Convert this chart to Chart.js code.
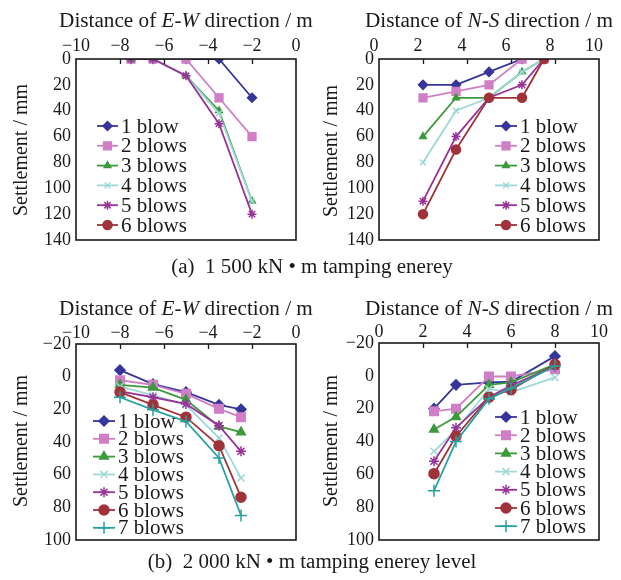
<!DOCTYPE html>
<html><head><meta charset="utf-8">
<script src="https://cdn.jsdelivr.net/npm/chart.js@4.4.1/dist/chart.umd.min.js"></script>
<style>
html,body{margin:0;padding:0;background:#fff;}
#wrap{position:relative;width:621px;height:580px;overflow:hidden;font-family:"Liberation Serif","Times New Roman",serif;color:#1a1a1a;}
canvas{position:absolute;left:0;top:0;}
.t{position:absolute;white-space:nowrap;text-align:center;font-size:20px;line-height:20px;width:400px;height:20px;transform:scaleX(1.06);}
.yt{position:absolute;white-space:nowrap;text-align:center;font-size:20px;line-height:20px;width:200px;height:20px;transform:rotate(-90deg);}
.cap{position:absolute;white-space:nowrap;text-align:center;font-size:20px;line-height:20px;width:500px;height:20px;transform:scaleX(1.05);}
</style>
</head><body>
<div id="wrap">
<canvas id="cTL" width="621" height="580"></canvas>
<canvas id="cTR" width="621" height="580"></canvas>
<canvas id="cBL" width="621" height="580"></canvas>
<canvas id="cBR" width="621" height="580"></canvas>
<div class="t" style="left:-14px;top:10px;">Distance of <i>E-W</i> direction / m</div>
<div class="t" style="left:289px;top:10px;">Distance of <i>N-S</i> direction / m</div>
<div class="t" style="left:-14px;top:298px;">Distance of <i>E-W</i> direction / m</div>
<div class="t" style="left:289px;top:298px;">Distance of <i>N-S</i> direction / m</div>
<div class="yt" style="left:-80px;top:140px;">Settlement / mm</div>
<div class="yt" style="left:230px;top:141px;">Settlement / mm</div>
<div class="yt" style="left:-80px;top:431px;">Settlement / mm</div>
<div class="yt" style="left:230px;top:431px;">Settlement / mm</div>
<div class="cap" style="left:62px;top:256px;">(a)&nbsp;&nbsp;1 500 kN • m tamping enerey</div>
<div class="cap" style="left:62px;top:551px;">(b)&nbsp;&nbsp;2 000 kN • m tamping enerey level</div>
</div>
<script>
// ---------- data ----------
const namesA = ['1 blow', '2 blows', '3 blows', '4 blows', '5 blows', '6 blows'];
const namesB = ['1 blow', '2 blows', '3 blows', '4 blows', '5 blows', '6 blows', '7 blows'];
const xTicksEW = [-10, -8, -6, -4, -2, 0];
const xTicksNS = [0, 2, 4, 6, 8, 10];

// (a) 1500 kN·m, E-W direction
const xA_EW = [-7.5, -6.5, -5, -3.5, -2];
const aEW1 = [0, 0, 0, 0, 30];
const aEW2 = [0, 0, 0, 30, 60];
const aEW3 = [0, 0, 13, 40, 110];
const aEW4 = [0, 0, 13, 42, 110];
const aEW5 = [0, 0, 13, 50, 120];
const aEW6 = [null, null, null, null, null];

// (a) 1500 kN·m, N-S direction
const xA_NS = [2, 3.5, 5, 6.5, 7.5];
const aNS1 = [20, 20, 10, 0, 0];
const aNS2 = [30, 25, 20, 0, 0];
const aNS3 = [60, 30, 30, 10, 0];
const aNS4 = [80, 40, 30, 10, 0];
const aNS5 = [110, 60, 30, 20, 0];
const aNS6 = [120, 70, 30, 30, 0];

// (b) 2000 kN·m, E-W direction
const xB_EW = [-8, -6.5, -5, -3.5, -2.5];
const bEW1 = [-4, 4.6, 9.5, 17.3, 20];
const bEW2 = [2.2, 5, 10.5, 19.7, 24.8];
const bEW3 = [5, 6.7, 14.2, 30.5, 34];
const bEW4 = [6, 11.5, 17.3, 37.6, 62];
const bEW5 = [9, 12.6, 16.7, 30, 45.7];
const bEW6 = [9.5, 17.3, 24.8, 42.3, 73.8];
const bEW7 = [12.6, 20.3, 27.4, 49.8, 85];

// (b) 2000 kN·m, N-S direction
const xB_NS = [2.5, 3.5, 5, 6, 8];
const bNS1 = [20, 5.5, 4, 3.6, -12];
const bNS2 = [21.6, 20, 0.4, 0.4, -4];
const bNS3 = [32.7, 25, 5.5, 4, -7];
const bNS4 = [46, 33, 8, 10, 1];
const bNS5 = [52, 31.7, 13, 6, -6];
const bNS6 = [59.6, 36.8, 13, 8.5, -7];
const bNS7 = [70, 40, 14, 7.5, -6];

// ---------- styles ----------
const COLORS = ['#36369a', '#d07fc6', '#3b9a3b', '#9fd8d8', '#993399', '#a0323a', '#27a0a0'];
const STYLES = ['rectRot', 'rect', 'triangle', 'crossRot', 'star', 'circle', 'cross'];
const RAD_A = [4.5, 5.5, 3.8, 4, 4.5, 4.5, 5];
const RAD_B = [5, 6, 5, 5, 5, 5, 6];
const FONT = '"Liberation Serif", "Times New Roman", serif';
const TXT = '#1a1a1a';
const minus = v => String(v).replace('-', '\u2212');

function drawMarker(ctx, style, r, x, y, color) {
  ctx.save();
  ctx.fillStyle = color; ctx.strokeStyle = color; ctx.lineWidth = 1.5;
  if (Chart.helpers && Chart.helpers.drawPoint) {
    Chart.helpers.drawPoint(ctx, {pointStyle: style, radius: r, rotation: 0, borderWidth: 1.5}, x, y);
  }
  ctx.restore();
}

function panel(id, cfg) {
  const A = cfg.area;
  const datasets = cfg.series.map((d, i) => ({
    label: cfg.names[i],
    data: cfg.xs.map((x, j) => ({x: x, y: d[j]})),
    showLine: true,
    borderColor: COLORS[i],
    backgroundColor: COLORS[i],
    pointBackgroundColor: COLORS[i],
    pointBorderColor: COLORS[i],
    pointStyle: STYLES[i],
    pointRadius: cfg.rad[i],
    pointBorderWidth: 1.5,
    borderWidth: 1.8,
    tension: 0,
    order: 20 - i
  }));
  const framePlugin = {
    id: 'frame',
    afterDatasetsDraw(chart) {
      const ctx = chart.ctx, ca = chart.chartArea, xs = chart.scales.x;
      ctx.save();
      ctx.strokeStyle = '#1a1a1a'; ctx.lineWidth = 1.6;
      ctx.strokeRect(ca.left, ca.top, ca.right - ca.left, ca.bottom - ca.top);
      ctx.lineWidth = 1.3;
      cfg.xticks.forEach(v => {
        if (v === xs.min || v === xs.max) return;
        const px = Math.round(xs.getPixelForValue(v)) + 0.5;
        ctx.beginPath(); ctx.moveTo(px, ca.top); ctx.lineTo(px, ca.top + 5); ctx.stroke();
      });
      // legend
      const L = cfg.legend;
      ctx.font = '21px ' + FONT;
      ctx.textBaseline = 'middle';
      ctx.textAlign = 'left';
      cfg.names.forEach((n, i) => {
        const y = L.y0 + i * L.dy;
        ctx.strokeStyle = COLORS[i]; ctx.lineWidth = 1.8;
        ctx.beginPath(); ctx.moveTo(L.x0, y); ctx.lineTo(L.x1, y); ctx.stroke();
        drawMarker(ctx, STYLES[i], cfg.rad[i], (L.x0 + L.x1) / 2, y, COLORS[i]);
        ctx.fillStyle = TXT;
        ctx.fillText(n, L.x1 + 3, y + 1);
      });
      ctx.restore();
    }
  };
  new Chart(document.getElementById(id), {
    type: 'scatter',
    data: {datasets: datasets},
    options: {
      responsive: false, animation: false, devicePixelRatio: 1,
      layout: {padding: {left: A.l - 60, top: A.t - 40, right: 621 - A.r, bottom: 580 - A.b}},
      plugins: {legend: {display: false}, tooltip: {enabled: false}},
      scales: {
        x: {
          type: 'linear', position: 'top',
          min: cfg.xticks[0], max: cfg.xticks[cfg.xticks.length - 1],
          afterBuildTicks: s => { s.ticks = cfg.xticks.map(v => ({value: v})); },
          ticks: {font: {family: FONT, size: 18, lineHeight: 1}, color: TXT, padding: cfg.xpad, labelOffset: cfg.xoff || 0, callback: minus, maxRotation: 0, autoSkip: false},
          grid: {display: false, drawTicks: false},
          border: {display: false},
          afterFit: s => { s.height = 40; }
        },
        y: {
          type: 'linear', reverse: true,
          min: cfg.yticks[0], max: cfg.yticks[cfg.yticks.length - 1],
          afterBuildTicks: s => { s.ticks = cfg.yticks.map(v => ({value: v})); },
          ticks: {font: {family: FONT, size: 18, lineHeight: 1}, color: TXT, padding: 5, callback: minus, autoSkip: false},
          grid: {display: false, drawTicks: false},
          border: {display: false},
          afterFit: s => { s.width = 60; }
        }
      }
    },
    plugins: [framePlugin]
  });
}

const yTicksA = [0, 20, 40, 60, 80, 100, 120, 140];
const yTicksB = [-20, 0, 20, 40, 60, 80, 100];

panel('cTL', {area: {l: 76, t: 59, r: 296, b: 240}, xs: xA_EW, names: namesA,
  series: [aEW1, aEW2, aEW3, aEW4, aEW5, aEW6], xticks: xTicksEW, yticks: yTicksA, rad: RAD_A, xpad: 4,
  legend: {x0: 97, x1: 118, y0: 126, dy: 19.8}});
panel('cTR', {area: {l: 379, t: 59, r: 599, b: 240}, xs: xA_NS, names: namesA,
  series: [aNS1, aNS2, aNS3, aNS4, aNS5, aNS6], xticks: xTicksNS, yticks: yTicksA, rad: RAD_A, xpad: 4, xoff: -5,
  legend: {x0: 495, x1: 517, y0: 126, dy: 19.8}});
panel('cBL', {area: {l: 76, t: 344, r: 296, b: 540}, xs: xB_EW, names: namesB,
  series: [bEW1, bEW2, bEW3, bEW4, bEW5, bEW6, bEW7], xticks: xTicksEW, yticks: yTicksB, rad: RAD_B, xpad: 2,
  legend: {x0: 93, x1: 115, y0: 421, dy: 17.8}});
panel('cBR', {area: {l: 379, t: 343, r: 599, b: 540}, xs: xB_NS, names: namesB,
  series: [bNS1, bNS2, bNS3, bNS4, bNS5, bNS6, bNS7], xticks: xTicksNS, yticks: yTicksB, rad: RAD_B, xpad: 2,
  legend: {x0: 495, x1: 517, y0: 417, dy: 18.2}});
</script>
</body></html>
